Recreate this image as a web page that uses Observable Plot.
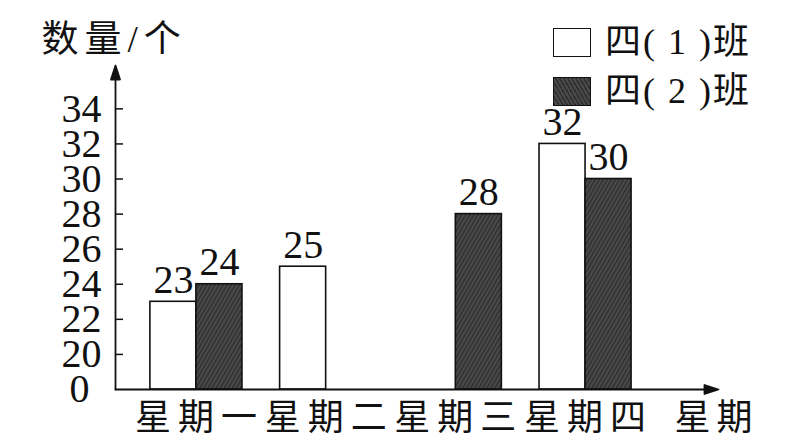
<!DOCTYPE html>
<html><head><meta charset="utf-8">
<script src="https://cdn.jsdelivr.net/npm/d3@7"></script>
<script src="https://cdn.jsdelivr.net/npm/@observablehq/plot@0.6"></script>
<style>
body{margin:0;background:#fff;}
#wrap{position:relative;width:812px;height:443px;overflow:hidden;background:#fff;}
#wrap svg{position:absolute;left:0;top:0;}
g[aria-label="x-axis tick label"] text{letter-spacing:7px;}
text[aria-label="xtitle"]{letter-spacing:6px;}
text[aria-label="ytitle"]{letter-spacing:6px;}
.legend{position:absolute;left:553px;top:0;font-family:"Liberation Serif","Noto Sans CJK SC",serif;font-size:36px;color:#111;letter-spacing:2px;}
.item{position:absolute;left:0;height:29px;line-height:29px;display:flex;align-items:center;white-space:pre;}
.box{width:38px;height:29px;box-sizing:border-box;border:1.6px solid #111;margin-right:14px;flex:none;}
.dark{background:repeating-linear-gradient(60deg,#303030 0 1.5px,#4a4a4a 1.5px 3.5px);}
</style></head>
<body><div id="wrap"></div>
<script>
const days = ["星期一", "星期二", "星期三", "星期四"];
const class1 = [23, 25, null, 32];
const class2 = [24, null, 28, 30];
const yTicks = [20, 22, 24, 26, 28, 30, 32, 34];
const seriesNames = ["四( 1 )班", "四( 2 )班"];
const yTitle = "数量/个";
const xTitle = "星期";

const d1 = days.map((day, i) => ({day, value: class1[i]})).filter(d => d.value != null);
const d2 = days.map((day, i) => ({day, value: class2[i]})).filter(d => d.value != null);

const serif = `"Liberation Serif", "Noto Sans CJK SC", serif`;
const cjk = `"Liberation Serif", "Noto Sans CJK SC", sans-serif`;
const ink = "#111";

const arrowShape = {
  draw(ctx, l) {
    ctx.moveTo(0, 0);
    ctx.lineTo(0, -l + 10);
    ctx.moveTo(-4.5, -l + 14);
    ctx.lineTo(0, -l);
    ctx.lineTo(4.5, -l + 14);
    ctx.closePath();
  }
};

const chart = Plot.plot({
  width: 812,
  height: 443,
  marginLeft: 115,
  marginRight: 94,
  marginTop: 64.5,
  marginBottom: 54,
  style: {background: "transparent", overflow: "visible"},
  x: {type: "band", domain: days, paddingInner: 0.645, paddingOuter: 0.647, align: 0.345, round: false, label: null},
  y: {domain: [18, 36.5], transform: v => (v === 0 ? 18 : v), label: null},
  marks: [
    Plot.barY(d1, {x: "day", y1: 0, y2: "value", dx: -23, fill: "white", stroke: ink, strokeWidth: 1.6}),
    Plot.barY(d2, {x: "day", y1: 0, y2: "value", dx: 23, fill: "url(#hatch)", stroke: ink, strokeWidth: 1.6}),
    Plot.text(d1, {x: "day", y: "value", text: d => String(d.value), dx: -23, dy: -9, lineAnchor: "bottom", fontSize: 40, fontFamily: serif, fill: ink}),
    Plot.text(d2, {x: "day", y: "value", text: d => String(d.value), dx: 23, dy: -9, lineAnchor: "bottom", fontSize: 40, fontFamily: serif, fill: ink}),
    Plot.axisY(yTicks, {tickSize: -8, fill: "none", stroke: ink, strokeWidth: 1.5}),
    Plot.axisY(yTicks, {tickSize: 0, tickPadding: 14, fontSize: 40, fontFamily: serif, fill: ink}),
    Plot.axisY([0], {tickSize: 0, tickPadding: 26, tickFormat: () => "0", fontSize: 40, fontFamily: serif, fill: ink}),
    Plot.axisX({tickSize: 0, tickPadding: 15, dx: 3, fontSize: 36, fontFamily: cjk, fill: ink}),
    Plot.vector([0], {frameAnchor: "bottom-left", length: 324, rotate: 0, anchor: "start", shape: arrowShape, stroke: ink, fill: ink, strokeWidth: 1.8}),
    Plot.vector([0], {frameAnchor: "bottom-left", length: 603, rotate: 90, anchor: "start", shape: arrowShape, stroke: ink, fill: ink, strokeWidth: 1.8}),
    Plot.text([xTitle], {frameAnchor: "bottom-right", text: d => d, textAnchor: "start", lineAnchor: "top", dx: -44, dy: 15, fontSize: 36, fontFamily: cjk, fill: ink, ariaLabel: () => "xtitle"}),
    Plot.text([yTitle], {frameAnchor: "top-left", text: d => d, textAnchor: "start", lineAnchor: "bottom", dx: -74, dy: -13, fontSize: 37, fontFamily: cjk, fill: ink, ariaLabel: () => "ytitle"})
  ]
});

const ns = "http://www.w3.org/2000/svg";
const defs = document.createElementNS(ns, "defs");
defs.innerHTML = `<pattern id="hatch" patternUnits="userSpaceOnUse" width="3.5" height="3.5" patternTransform="rotate(30)"><rect width="3.5" height="3.5" fill="#4a4a4a"/><rect width="1.5" height="3.5" fill="#303030"/></pattern>`;
chart.insertBefore(defs, chart.firstChild);

const wrap = document.getElementById("wrap");
wrap.appendChild(chart);

const legend = document.createElement("div");
legend.className = "legend";
const tops = [28, 77];
seriesNames.forEach((name, i) => {
  const item = document.createElement("div");
  item.className = "item";
  item.style.top = tops[i] + "px";
  const box = document.createElement("span");
  box.className = "box" + (i === 1 ? " dark" : "");
  item.appendChild(box);
  item.appendChild(document.createTextNode(name));
  legend.appendChild(item);
});
wrap.appendChild(legend);
</script>
</body></html>
